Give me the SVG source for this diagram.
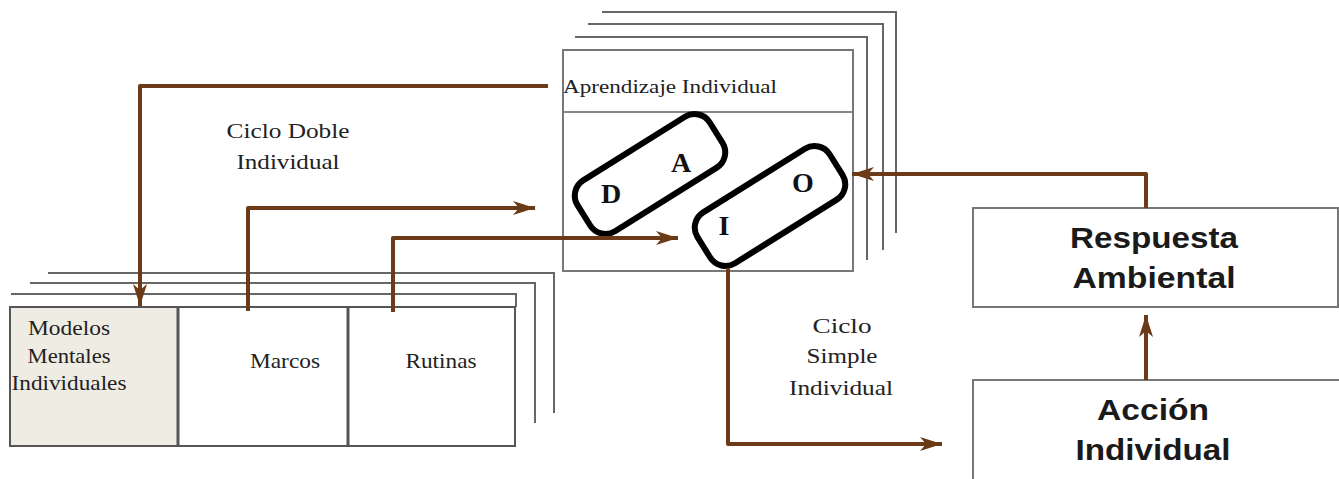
<svg xmlns="http://www.w3.org/2000/svg" width="1339" height="479" viewBox="0 0 1339 479">
<style>
  .serif { font-family: "Liberation Serif", "Times New Roman", serif; fill: #222; }
  .lbl { font-size: 21px; }
  .big { font-family: "Liberation Sans", Arial, sans-serif; font-weight: bold; font-size: 29px; fill: #1a1a1a; text-anchor: middle; }
  .letter { font-family: "Liberation Serif", "Times New Roman", serif; font-weight: bold; font-size: 28px; fill: #111; text-anchor: middle; }
  .layer { fill: none; stroke: #666; stroke-width: 2; }
  .box { fill: #fff; stroke: #777; stroke-width: 2; }
  .pill { fill: none; stroke: #000; stroke-width: 6; }
  .conn { fill: none; stroke: #6b3a17; stroke-width: 4; stroke-linejoin: round; marker-end: url(#arr); }
  .mid { text-anchor: middle; }
</style>
<defs>
  <marker id="arr" markerUnits="userSpaceOnUse" viewBox="0 0 22 16" markerWidth="22" markerHeight="16" refX="22" refY="8" orient="auto">
    <path d="M0,1 L22,8 L0,15 L6,8 z" fill="#6b3a17"/>
  </marker>
</defs>
<rect width="1339" height="479" fill="#fff"/>

<g id="aprendizaje">
  <path class="layer" d="M602,12 H896 V233"/>
  <path class="layer" d="M588,24 H883 V250"/>
  <path class="layer" d="M575,37 H867 V260"/>
  <rect class="box" x="563" y="50" width="290" height="221"/>
  <line x1="563" y1="112" x2="853" y2="112" stroke="#888" stroke-width="2"/>
  <text class="serif" x="563" y="93" font-size="19" textLength="214" lengthAdjust="spacingAndGlyphs">Aprendizaje Individual</text>
</g>

<g id="pill-da">
  <rect class="pill" x="-78" y="-30" width="156" height="60" rx="18" transform="translate(650,174) rotate(-32)"/>
  <text class="letter" x="611" y="203">D</text>
  <text class="letter" x="681" y="172">A</text>
</g>

<g id="pill-io">
  <rect class="pill" x="-78" y="-30" width="156" height="60" rx="18" transform="translate(770,206) rotate(-32)"/>
  <text class="letter" x="803" y="192">O</text>
  <text class="letter" x="724" y="235">I</text>
</g>

<g id="memoria">
  <path class="layer" d="M48,273 H554 V413"/>
  <path class="layer" d="M30,283 H535 V423"/>
  <path class="layer" d="M11,294 H516 V307"/>
  <rect x="10" y="307" width="505" height="139" fill="#fff" stroke="#555" stroke-width="2"/>
  <rect x="10" y="307" width="168" height="139" fill="#eeece3" stroke="#555" stroke-width="2"/>
  <line x1="178" y1="307" x2="178" y2="446" stroke="#555" stroke-width="3"/>
  <line x1="348" y1="307" x2="348" y2="446" stroke="#555" stroke-width="3"/>
</g>

<g id="modelos">
  <text class="serif lbl mid" x="69" y="335" textLength="82" lengthAdjust="spacingAndGlyphs">Modelos</text>
  <text class="serif lbl mid" x="69" y="363" textLength="83" lengthAdjust="spacingAndGlyphs">Mentales</text>
  <text class="serif lbl mid" x="69" y="390" textLength="115" lengthAdjust="spacingAndGlyphs">Individuales</text>
</g>
<g id="marcos">
  <text class="serif lbl mid" x="285" y="368" textLength="70" lengthAdjust="spacingAndGlyphs">Marcos</text>
</g>
<g id="rutinas">
  <text class="serif lbl mid" x="441" y="368" textLength="71" lengthAdjust="spacingAndGlyphs">Rutinas</text>
</g>

<g id="respuesta">
  <rect class="box" x="973" y="208" width="365" height="99"/>
  <text class="big" x="1154" y="248" textLength="168" lengthAdjust="spacingAndGlyphs">Respuesta</text>
  <text class="big" x="1154" y="288" textLength="163" lengthAdjust="spacingAndGlyphs">Ambiental</text>
</g>

<g id="accion">
  <rect class="box" x="973" y="380" width="370" height="110"/>
  <text class="big" x="1153" y="420" textLength="112" lengthAdjust="spacingAndGlyphs">Acción</text>
  <text class="big" x="1153" y="460" textLength="155" lengthAdjust="spacingAndGlyphs">Individual</text>
</g>

<g id="labels">
  <text class="serif lbl mid" x="288" y="138" textLength="123" lengthAdjust="spacingAndGlyphs">Ciclo Doble</text>
  <text class="serif lbl mid" x="288" y="169" textLength="103" lengthAdjust="spacingAndGlyphs">Individual</text>
  <text class="serif lbl mid" x="842" y="333" textLength="59" lengthAdjust="spacingAndGlyphs">Ciclo</text>
  <text class="serif lbl mid" x="842" y="363" textLength="71" lengthAdjust="spacingAndGlyphs">Simple</text>
  <text class="serif lbl mid" x="841" y="395" textLength="104" lengthAdjust="spacingAndGlyphs">Individual</text>
</g>

<g id="connectors">
  <path class="conn" d="M548,86 H140 V306"/>
  <path class="conn" d="M248,311 V208 H535"/>
  <path class="conn" d="M393,312 V238 H678"/>
  <path class="conn" d="M728,268 V444 H942"/>
  <path class="conn" d="M1146,208 V174 H852"/>
  <path class="conn" d="M1146,380 V315"/>
</g>
</svg>
